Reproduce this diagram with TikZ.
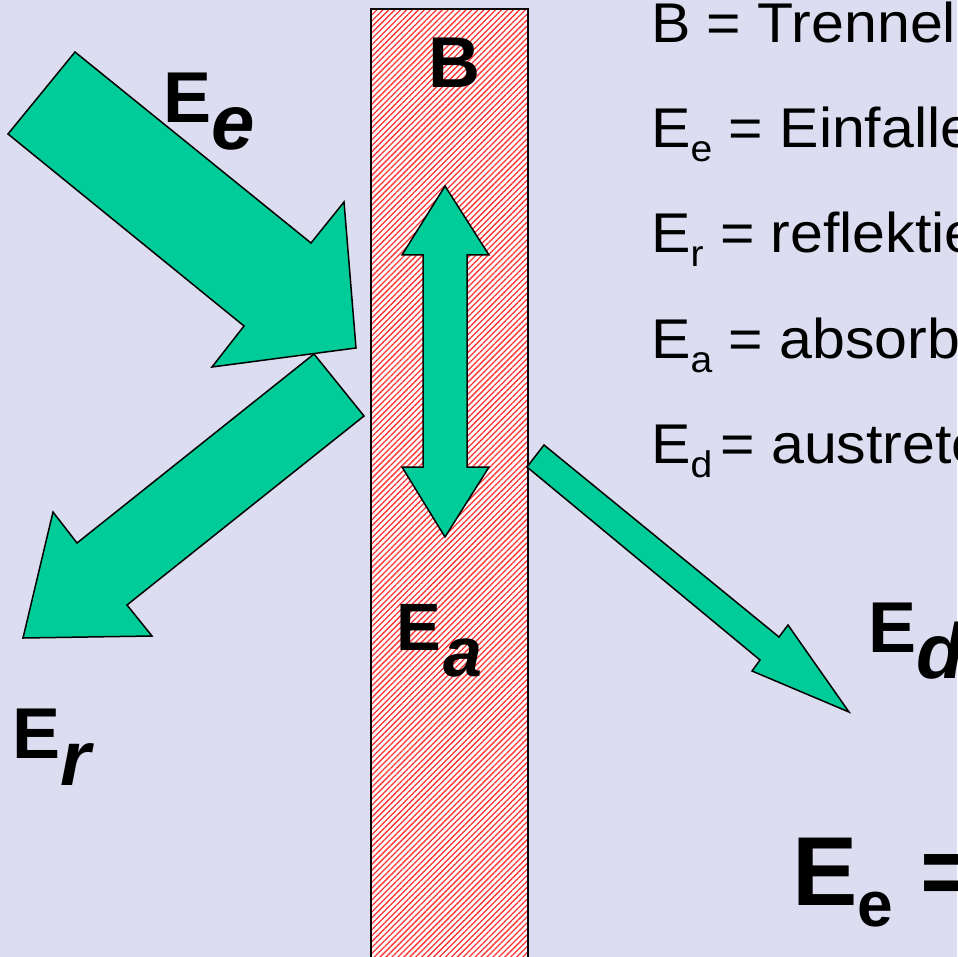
\documentclass[tikz,border=0pt]{standalone}
\usepackage{fontspec}
\setmainfont{Liberation Sans}
\newfontfamily\legfont[FakeStretch=1.055]{Liberation Sans}
\usetikzlibrary{patterns.meta}
\definecolor{bgc}{RGB}{220,221,240}
\definecolor{grn}{RGB}{0,204,153}
\newcommand{\fsz}[1]{\fontsize{#1}{#1}\selectfont}
\tikzset{
  bigarrow/.style={fill=grn, draw=black, line width=1.5pt, line join=miter},
  legend/.style={anchor=base west, inner sep=0pt, font=\legfont\fsz{56}},
  lbl/.style={anchor=base west, inner sep=0pt},
}
\begin{document}
\begin{tikzpicture}[x=1pt,y=-1pt]
\useasboundingbox (0,0) rectangle (957,957);
\clip (0,0) rectangle (957,957);
\fill[bgc] (0,0) rectangle (957,957);
% barrier
\fill[white] (371,9) rectangle (528,975);
\fill[pattern={Lines[angle=45,distance=4.2pt,line width=1.3pt]}, pattern color=red!80!white] (371,9) rectangle (528,975);
\draw[line width=1.2pt] (371,9) rectangle (528,975);
% incident arrow
\draw[bigarrow] (75,52) -- (8,134) -- (244,326) -- (212,367) -- (356,348) -- (344,202) -- (311,243) -- cycle;
% reflected arrow
\draw[bigarrow] (314,354) -- (364,416) -- (127,605) -- (152,636) -- (23,638) -- (53,512) -- (77,543) -- cycle;
% transmitted arrow
\draw[bigarrow] (544,445) -- (527,467) -- (760,660) -- (752,671) -- (849,712) -- (788,625) -- (779,637) -- cycle;
% absorbed double arrow
\draw[bigarrow] (445,186) -- (489,255) -- (467,255) -- (467,467) -- (489,467) -- (445,537) -- (402,467) -- (423,467) -- (423,255) -- (402,255) -- cycle;
% labels
\node[lbl] (lB) at (428,88) {\fsz{72}\bfseries B};
\node[lbl] (lEe) at (163,123) {\fsz{72}\bfseries E\raisebox{-27pt}{\fsz{78}\itshape e}};
\node[lbl] (lEr) at (12,758) {\fsz{72}\bfseries E\raisebox{-27pt}{\fsz{78}\itshape r}};
\node[lbl] (lEa) at (396,650) {\fsz{67}\bfseries E\hspace{3pt}\raisebox{-26pt}{\fsz{70}\itshape a}};
\node[lbl] (lEd) at (868,652) {\fsz{72}\bfseries E\raisebox{-26pt}{\fsz{78}\itshape d}};
% legend
\node[legend] (t1) at (651,43) {B = Trennel};
\node[legend] (t2) at (651,148) {E\raisebox{-14pt}{\fsz{37}e} = Einfalle};
\node[legend] (t3) at (651,253) {E\raisebox{-14pt}{\fsz{37}r} = reflektie};
\node[legend] (t4) at (651,358) {E\raisebox{-14pt}{\fsz{37}a} = absorb};
\node[legend] (t5) at (651,463) {E\raisebox{-14pt}{\fsz{37}d}\hspace{8pt}= austrete};
% formula
\node[lbl] (form) at (792,905) {\fsz{98}\bfseries E\raisebox{-21pt}{\fsz{64}e} =};
\end{tikzpicture}
\end{document}
